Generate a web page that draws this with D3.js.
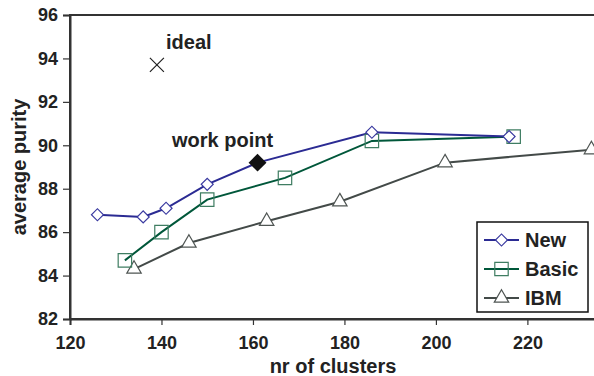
<!DOCTYPE html>
<html>
<head>
<meta charset="utf-8">
<script src="https://cdn.jsdelivr.net/npm/d3@7"></script>
<style>
  body { margin: 0; background: #fff; }
  svg { display: block; font-family: "Liberation Sans", Arial, sans-serif; font-weight: bold; }
</style>
</head>
<body>
<div id="chart"></div>
<script>
// values
var newX = [126, 136, 141, 150, 161, 186, 216];
var newY = [86.8, 86.7, 87.1, 88.2, 89.2, 90.6, 90.4];
var basicX = [132, 140, 150, 167, 186, 217];
var basicY = [84.7, 86.0, 87.5, 88.5, 90.2, 90.4];
var ibmX = [134, 146, 163, 179, 202, 234];
var ibmY = [84.3, 85.5, 86.5, 87.4, 89.2, 89.8];
var idealPoint = [139, 93.7];
var workPoint = [161, 89.2];
var xTicks = [120, 140, 160, 180, 200, 220];
var yTicks = [82, 84, 86, 88, 90, 92, 94, 96];

var width = 594, height = 376;
var margin = {top: 15, left: 70, bottom: 57};

var svg = d3.select("#chart")
  .append("svg")
  .attr("width", width)
  .attr("height", height);

var x = d3.scaleLinear().domain([120, 235]).range([margin.left, 596]);
var y = d3.scaleLinear().domain([82, 96]).range([height - margin.bottom, margin.top]);

function zip(xs, ys) {
  return xs.map((v, i) => [v, ys[i]]);
}

var series = [
  {name: "New", pts: zip(newX, newY), line: "#2b2b93", mark: "#3a3aa0", shape: "diamond"},
  {name: "Basic", pts: zip(basicX, basicY), line: "#00573a", mark: "#3f7d62", shape: "square"},
  {name: "IBM", pts: zip(ibmX, ibmY), line: "#434a48", mark: "#4f5553", shape: "triangle"}
];

// plot frame
svg.append("rect")
  .attr("x", x(120))
  .attr("y", y(96))
  .attr("width", 600)
  .attr("height", y(82) - y(96))
  .attr("fill", "none")
  .attr("stroke", "#333")
  .attr("stroke-width", 2);

// axes
var yAxis = svg.append("g")
  .attr("transform", `translate(${x(120)},0)`)
  .call(d3.axisLeft(y).tickValues(yTicks).tickSize(7).tickPadding(5));
var xAxis = svg.append("g")
  .attr("transform", `translate(0,${y(82)})`)
  .call(d3.axisBottom(x).tickValues(xTicks).tickSize(6).tickPadding(11));

[xAxis, yAxis].forEach(g => {
  g.select(".domain").attr("stroke", "#333").attr("stroke-width", 2);
  g.selectAll(".tick line").attr("stroke", "#333").attr("stroke-width", 1.2);
  g.selectAll(".tick text")
    .attr("fill", "#222")
    .style("font-size", "18px")
    .style("font-family", "'Liberation Sans', Arial, sans-serif")
    .style("font-weight", "bold");
});

svg.append("text")
  .attr("x", (x(120) + 596) / 2)
  .attr("y", 373)
  .attr("text-anchor", "middle")
  .attr("fill", "#222")
  .style("font-size", "20px")
  .text("nr of clusters");

svg.append("text")
  .attr("transform", `translate(26,${(y(82) + y(96)) / 2}) rotate(-90)`)
  .attr("text-anchor", "middle")
  .attr("fill", "#222")
  .style("font-size", "20px")
  .text("average purity");

var line = d3.line().x(d => x(d[0])).y(d => y(d[1]));

var symbols = {
  diamond: d3.symbol().type(d3.symbolSquare).size(72),
  square: d3.symbol().type(d3.symbolSquare).size(180),
  triangle: d3.symbol().type(d3.symbolTriangle).size(90)
};

function drawMarker(g, shape, px, py, color) {
  g.append("path")
    .attr("d", symbols[shape]())
    .attr("transform", `translate(${px},${py})` + (shape === "diamond" ? " rotate(45)" : ""))
    .attr("fill", "#fff")
    .attr("fill-opacity", shape === "square" ? 0 : 1)
    .attr("stroke", color)
    .attr("stroke-width", 1.2);
}

var plot = svg.append("g");

series.slice().reverse().forEach(s => {
  plot.append("path")
    .datum(s.pts)
    .attr("fill", "none")
    .attr("stroke", s.line)
    .attr("stroke-width", 2)
    .attr("d", line);
});
series.slice().reverse().forEach(s => {
  s.pts.forEach(p => drawMarker(plot, s.shape, x(p[0]), y(p[1]), s.mark));
});

// work point
plot.append("path")
  .attr("d", d3.symbol().type(d3.symbolSquare).size(160)())
  .attr("transform", `translate(${x(workPoint[0])},${y(workPoint[1])}) rotate(45)`)
  .attr("fill", "#111");

svg.append("text")
  .attr("x", 172)
  .attr("y", 147)
  .attr("fill", "#222")
  .style("font-size", "20px")
  .text("work point");

// ideal
var cx = x(idealPoint[0]), cy = y(idealPoint[1]), r = 7;
svg.append("path")
  .attr("d", `M${cx - r},${cy - r}L${cx + r},${cy + r}M${cx - r},${cy + r}L${cx + r},${cy - r}`)
  .attr("stroke", "#222")
  .attr("stroke-width", 1.2);

svg.append("text")
  .attr("x", 166)
  .attr("y", 49)
  .attr("fill", "#222")
  .style("font-size", "20px")
  .text("ideal");

// legend
var legend = svg.append("g").attr("transform", "translate(477,222)");
legend.append("rect")
  .attr("width", 111)
  .attr("height", 90)
  .attr("fill", "#fff")
  .attr("stroke", "#111")
  .attr("stroke-width", 1.5);

series.forEach((s, i) => {
  var ly = 18 + i * 29;
  legend.append("line")
    .attr("x1", 7).attr("x2", 42)
    .attr("y1", ly).attr("y2", ly)
    .attr("stroke", s.line)
    .attr("stroke-width", 2);
  drawMarker(legend, s.shape, 24.5, ly, s.mark);
  legend.append("text")
    .attr("x", 48)
    .attr("y", ly + 7)
    .attr("fill", "#222")
    .style("font-size", "20px")
    .text(s.name);
});
</script>
</body>
</html>
